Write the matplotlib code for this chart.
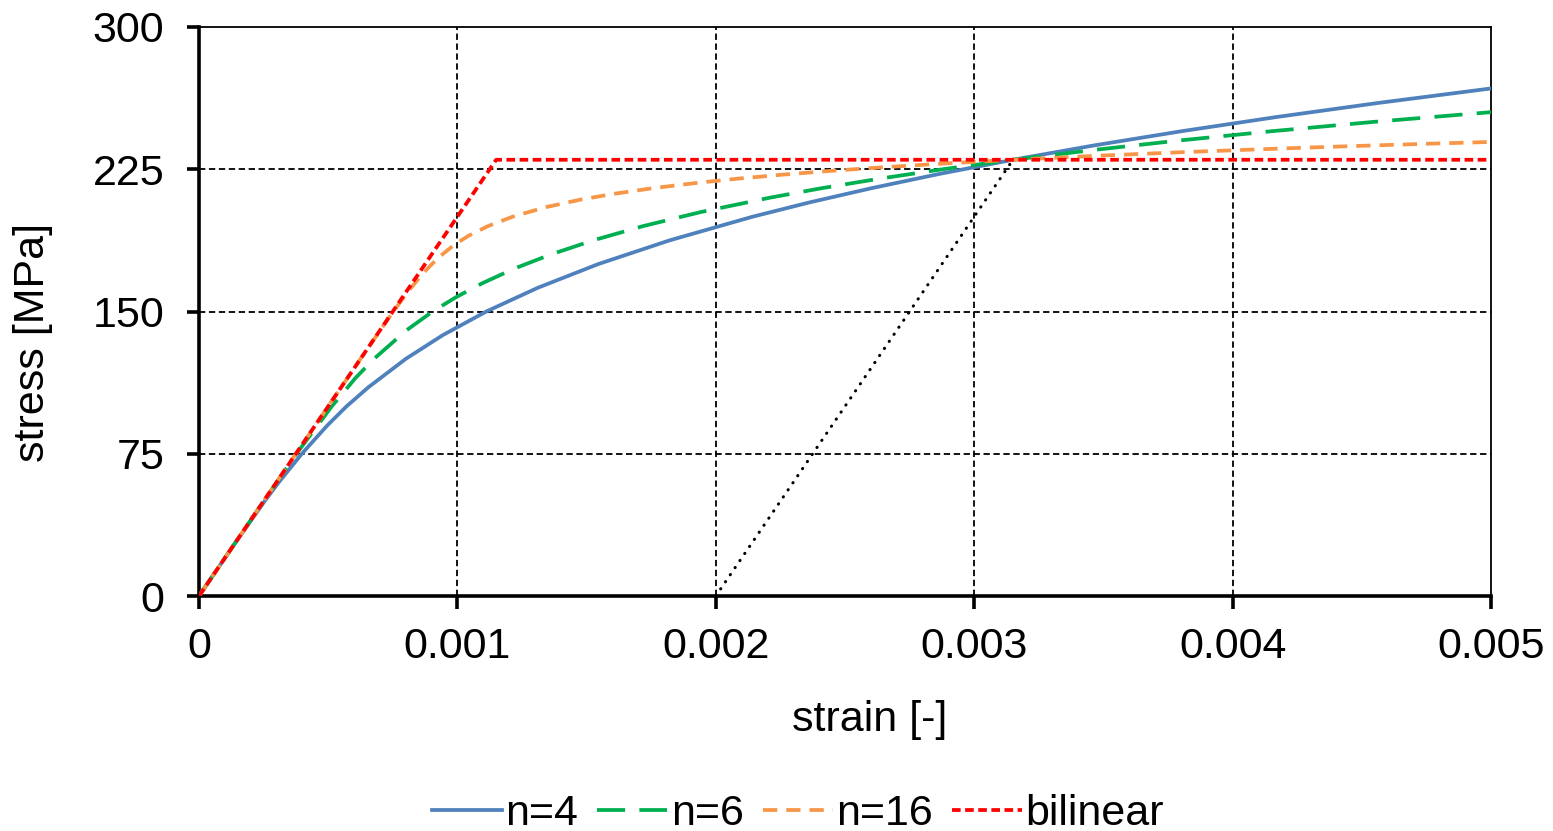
import matplotlib
matplotlib.use("Agg")
import matplotlib.pyplot as plt

plt.rcParams['font.family'] = ['Liberation Sans', 'DejaVu Sans']

# Data (strain [-], stress [MPa])
n4_strain = [0.0, 0.000125, 0.000254, 0.000309, 0.000398, 0.000497, 0.000571, 0.000655,
             0.000800, 0.000943, 0.001112, 0.001311, 0.001545, 0.001821, 0.002143, 0.002362,
             0.002602, 0.002864, 0.003150, 0.003461, 0.003800, 0.004168, 0.004566, 0.005000]
n4_stress = [0, 25, 50, 60, 75, 90, 100, 110,
             125, 137.5, 150, 162.5, 175, 187.5, 200, 207.5,
             215, 222.5, 230, 237.5, 245, 252.5, 260, 267.6]

n6_strain = [0.0, 0.000250, 0.000377, 0.000514, 0.000606, 0.000677, 0.000802, 0.000904,
             0.000994, 0.001098, 0.001218, 0.001360, 0.001525, 0.001718, 0.001944, 0.002209,
             0.002409, 0.002632, 0.002878, 0.003150, 0.003451, 0.003782, 0.004147, 0.004548,
             0.005000]
n6_stress = [0, 50, 75, 100, 115, 125, 140, 150,
             157.5, 165, 172.5, 180, 187.5, 195, 202.5, 210,
             215, 220, 225, 230, 235, 240, 245, 250,
             255.1]

n16_strain = [0.0, 0.000500, 0.000650, 0.000752, 0.000806, 0.000866, 0.000923, 0.000986,
              0.001044, 0.001118, 0.001214, 0.001342, 0.001477, 0.001603, 0.001755, 0.001939,
              0.002082, 0.002245, 0.002430, 0.002641, 0.002879, 0.003150, 0.003457, 0.003805,
              0.004200, 0.004416, 0.004767, 0.005000]
n16_stress = [0, 100, 130, 150, 160, 170, 178, 185,
              190, 195, 200, 205, 209, 212, 215, 218,
              220, 222, 224, 226, 228, 230, 232, 234,
              236, 237, 238.5, 239.4]

bilinear_strain = [0.0, 0.00115, 0.005]
bilinear_stress = [0, 230, 230]

offset_strain = [0.002, 0.00315]
offset_stress = [0, 230]

x_ticks = [0, 0.001, 0.002, 0.003, 0.004, 0.005]
x_ticklabels = ["0", "0.001", "0.002", "0.003", "0.004", "0.005"]
y_ticks = [0, 75, 150, 225, 300]

fig = plt.figure(figsize=(15.53, 8.31), dpi=100)
ax = fig.add_axes([199/1553, 1-596/831, (1491-199)/1553, (596-27)/831])

ax.plot(n4_strain, n4_stress, color='#4F81BD', lw=2.7, solid_joinstyle='round', label='n=4', zorder=3)
ax.plot(n6_strain, n6_stress, color='#00B050', lw=2.7, linestyle=(0, (7.5, 3.8)), label='n=6', zorder=3)
ax.plot(n16_strain, n16_stress, color='#F79646', lw=2.7, linestyle=(0, (3.8, 2.4)), label='n=16', zorder=3)
ax.plot(bilinear_strain, bilinear_stress, color='#FF0000', lw=2.7, linestyle=(0, (2.3, 1.2)), label='bilinear', zorder=4)
ax.plot(offset_strain, offset_stress, color='black', lw=2.2, linestyle=(0, (0.1, 2.7)),
        dash_capstyle='round', zorder=2)

ax.set_xlim(0, 0.005)
ax.set_ylim(0, 300)
ax.set_xticks(x_ticks)
ax.set_xticklabels(x_ticklabels)
ax.set_yticks(y_ticks)

for v in x_ticks[1:-1]:
    ax.axvline(v, color='black', lw=1.3, linestyle=(0, (3.5, 2)), zorder=1)
for v in y_ticks[1:-1]:
    ax.axhline(v, color='black', lw=1.3, linestyle=(0, (3.5, 2)), zorder=1)

for s in ['left', 'bottom']:
    ax.spines[s].set_linewidth(2.6)
for s in ['top', 'right']:
    ax.spines[s].set_linewidth(1.3)
ax.tick_params(axis='both', which='major', length=9, width=2.6, direction='out',
               labelsize=31, top=False, right=False)
ax.tick_params(axis='y', pad=16)
ax.tick_params(axis='x', pad=13)

ax.set_xlabel('strain [-]', fontsize=31)
ax.set_ylabel('stress [MPa]', fontsize=31)
ax.xaxis.set_label_coords((870-199)/1292, (596-720)/569)
ax.yaxis.set_label_coords((33-199)/1292, (596-342)/569)
ax.xaxis.label.set_va('center')
ax.yaxis.label.set_va('center')

leg = fig.legend(loc='lower center', bbox_to_anchor=(798/1553, -0.05), ncol=4, frameon=False,
                 fontsize=31, handlelength=1.62, handletextpad=0.08, columnspacing=0.45)

fig.savefig('out.png', dpi=100)
